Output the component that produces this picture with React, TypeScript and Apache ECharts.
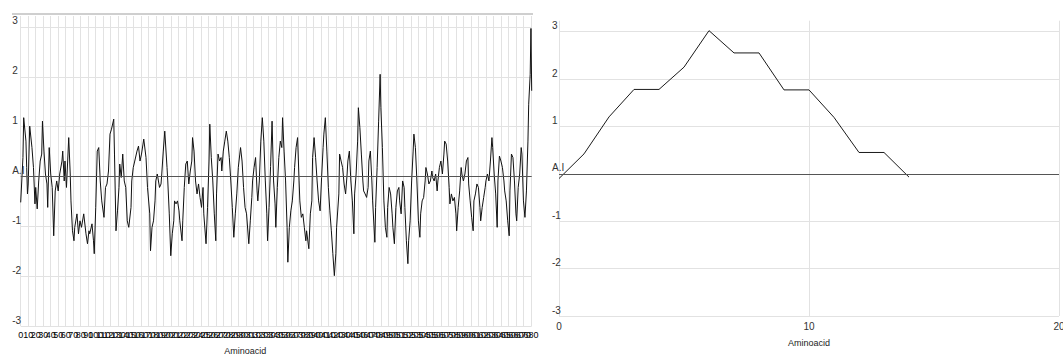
import React, { useEffect, useRef } from 'react';
import * as echarts from 'echarts';

// Left profile: [amino acid position, index value]
const leftProfile: [number, number][] = [
  [0,-0.52],[3,0.38],[4,1.18],[7,0.71],[8,0.18],[9,-0.35],[10,-0.15],[12,1.01],[15,0.58],[17,0.18],[19,-0.55],[20,-0.22],[22,-0.65],[24,-0.09],[26,0.31],[28,0.45],[29,1.11],[31,0.51],[33,0.05],[35,-0.15],[36,-0.62],[38,0.58],[40,0.05],[42,-0.22],[44,-1.19],[46,-0.29],[48,-0.09],[50,-0.29],[52,0.05],[55,0.31],[56,0.51],[58,-0.09],[59,0.31],[61,-0.22],[64,0.78],[66,0.05],[67,-0.49],[69,-1.09],[71,-1.29],[72,-1.02],[75,-0.75],[77,-1.15],[79,-0.89],[81,-1.02],[84,-0.75],[87,-1.15],[89,-1.35],[91,-1.09],[92,-1.15],[95,-0.95],[97,-1.29],[98,-1.55],[100,-0.62],[102,0.51],[104,0.58],[106,-0.09],[108,-0.49],[111,-0.82],[113,-0.22],[115,-0.15],[117,0.11],[119,0.85],[121,0.95],[124,1.15],[125,0.45],[127,-1.09],[129,-0.69],[131,-0.22],[132,0.25],[134,-0.02],[136,0.45],[138,-0.09],[140,-0.22],[142,-0.89],[144,-1.02],[147,-0.62],[148,-0.09],[150,0.18],[152,0.31],[155,0.51],[157,0.61],[159,0.31],[161,0.45],[163,0.65],[164,0.75],[167,0.38],[169,-0.22],[172,-0.75],[173,-1.49],[175,-1.02],[177,-0.89],[179,-0.49],[180,-0.09],[182,0.05],[185,-0.22],[187,-0.15],[188,0.05],[190,0.51],[192,0.91],[195,0.18],[196,-0.09],[198,-0.75],[200,-1.59],[202,-1.15],[204,-0.89],[205,-0.49],[207,-0.55],[209,-0.49],[211,-0.69],[212,-0.89],[215,-1.29],[216,-0.89],[218,-0.22],[220,0.25],[222,0.31],[224,-0.15],[226,0.11],[228,0.31],[229,0.78],[231,0.51],[233,-0.09],[235,-0.35],[237,-0.15],[239,-0.42],[241,-0.62],[243,-0.22],[244,-0.75],[247,-1.35],[249,-0.62],[251,0.31],[252,1.05],[254,0.38],[256,-0.09],[258,-0.75],[260,-1.29],[261,-0.35],[263,0.45],[265,0.31],[267,0.38],[268,0.11],[270,0.51],[272,0.71],[274,0.91],[276,0.71],[278,0.38],[280,-0.09],[282,-0.62],[284,-1.22],[286,-0.75],[288,-0.35],[290,0.18],[292,0.45],[293,0.58],[295,0.31],[297,-0.22],[299,-0.62],[301,-0.75],[304,-1.35],[306,-0.89],[308,-0.42],[309,-0.09],[311,0.18],[313,0.38],[315,-0.29],[316,-0.49],[318,-0.09],[320,0.71],[322,1.18],[324,0.71],[326,-0.09],[328,-0.75],[329,-1.29],[331,-0.62],[333,0.2],
  [335,1.11],[337,-0.09],[339,-0.55],[340,-1.02],[342,-0.22],[344,0.38],[346,0.71],[348,0.58],[349,1.18],[351,0.51],[353,-0.09],[355,-1.02],[356,-1.72],[358,-1.02],[360,-0.69],[362,-0.49],[364,-0.09],[365,0.18],[367,0.58],[369,0.78],[371,-0.09],[372,-0.49],[374,-0.82],[376,-0.75],[378,-1.02],[380,-1.29],[381,-1.09],[384,-1.45],[386,-0.75],[388,-0.49],[389,0.38],[391,0.78],[393,0.38],[395,-0.09],[397,-0.49],[399,-0.69],[401,-0.02],[403,0.58],[404,0.85],[406,1.18],[408,0.51],[410,-0.22],[412,-0.69],[414,-1.09],[416,-1.55],[418,-1.99],[420,-1.55],[421,-1.02],[424,-0.35],[425,0.45],[427,0.31],[429,0.18],[431,-0.15],[433,-0.35],[435,0.05],[436,0.31],[438,0.51],[440,-0.09],[442,-0.49],[444,-1.15],[445,-0.35],[447,0.05],[449,0.71],[450,1.38],[452,0.98],[454,0.45],[456,-0.09],[457,-0.29],[459,-0.35],[461,-0.42],[463,-0.22],[464,0.31],[466,0.51],[468,-0.09],[469,-0.49],[472,-1.32],[473,-0.62],[475,0.18],[477,1.11],[479,2.05],[480,1.38],[482,0.58],[484,-0.49],[486,-1.02],[488,-1.22],[489,-0.62],[491,-0.22],[493,-0.35],[495,-0.75],[496,-1.02],[498,-1.35],[500,-0.62],[502,-0.29],[504,-0.22],[505,-0.49],[507,-0.75],[509,-0.09],[511,-0.22],[512,-0.62],[514,-1.29],[516,-1.75],[517,-1.29],[519,-0.89],[521,-0.09],[523,0.51],[524,0.85],[526,0.58],[528,-0.09],[530,-0.89],[532,-1.22],[533,-0.75],[535,-0.49],[537,-0.42],[539,-0.09],[540,0.18],[542,0.05],[544,-0.15],[546,-0.09],[548,0.11],[549,-0.02],[551,-0.09],[553,0.05],[555,-0.29],[556,-0.09],[558,0.18],[560,0.31],[562,0.05],[564,0.45],[565,0.71],[567,0.65],[569,0.31],[571,-0.22],[572,-0.55],[574,-0.35],[576,-0.49],[578,-0.42],[580,-0.75],[581,-1.09],[583,-0.62],[585,-0.29],[587,0.18],[588,0.05],[590,-0.09],[592,0.05],[594,0.31],[596,0.38],[597,-0.15],[599,-0.49],[601,-0.82],[603,-1.09],[604,-0.49],[606,-0.35],[608,-0.15],[610,-0.22],[612,-0.62],[613,-0.89],[615,-0.62],[617,-0.42],[619,-0.22],[620,-0.09],[622,0.05],[624,-0.09],[626,0.31],[628,0.78],[629,0.58],[631,0.05],[633,-0.35],[635,-1.02],[636,-0.09],[638,0.41],[640,0.31],[642,0.18],[644,-0.09],[645,-0.29],[647,-0.49],[649,-0.89],[651,-1.19],[652,-0.29],[654,0.45],[656,0.38],[658,-0.09],[660,-0.75],[661,-0.89],[663,-0.22],[665,0.05],[667,0.58],[668,0.45],[670,-0.49],[672,-0.82],[674,-0.29],[676,0.71],[677,1.45],[679,2.05],[680,2.97],[681,1.72],
];
const leftLength = 681;
const leftTickStep = 10;

const rightPositions = [0, 1, 2, 3, 4, 5, 6, 7, 8, 9, 10, 11, 12, 13, 14];
const rightValues = [-0.1, 0.42, 1.2, 1.78, 1.78, 2.25, 3.02, 2.55, 2.55, 1.77, 1.77, 1.19, 0.45, 0.45, -0.07];
const rightMax = 20;
const rightTickStep = 10;

const yMin = -3;
const yTickStep = 1;
const axisTitle = 'Aminoacid';
const zeroLabel = 'A.I';

const FONT = '"Liberation Sans", Arial, sans-serif';
const GRID_COLOR = '#e2e2e2';

export default function App() {
  const ref = useRef<HTMLDivElement>(null);
  useEffect(() => {
    const chart = echarts.init(ref.current as HTMLDivElement, null, { renderer: 'svg' });
    const yLabel = (v: number) => (v === 0 ? zeroLabel : Number.isInteger(v) ? String(v) : '');
    const yAxisBase = (gridIndex: number, max: number, margin: number) => ({
      type: 'value',
      gridIndex,
      min: yMin,
      max,
      interval: yTickStep,
      axisLine: { show: false },
      axisTick: { show: false },
      splitLine: { show: true, showMaxLine: false, lineStyle: { color: GRID_COLOR, width: 1 } },
      axisLabel: {
        align: 'left',
        verticalAlign: 'bottom',
        lineHeight: 12,
        margin,
        fontSize: 10,
        color: '#333',
        fontFamily: FONT,
        showMinLabel: true,
        showMaxLabel: false,
        formatter: yLabel,
      },
    });
    const zeroMark = {
      silent: true,
      symbol: ['none', 'none'],
      label: { show: false },
      lineStyle: { color: '#555', width: 1, type: 'solid' },
      data: [{ yAxis: 0 }],
    };
    chart.setOption({
      animation: false,
      backgroundColor: '#fff',
      grid: [
        { left: 20.7, top: 16, width: 511, height: 310, outerBoundsMode: 'none', containLabel: false },
        { left: 559, top: 20.7, width: 500, height: 295.3, outerBoundsMode: 'none', containLabel: false },
      ],
      xAxis: [
        {
          type: 'value',
          gridIndex: 0,
          min: 0,
          max: leftLength,
          interval: leftTickStep,
          axisLine: { show: false },
          axisTick: { show: false },
          splitLine: { show: true, lineStyle: { color: GRID_COLOR, width: 1 } },
          axisLabel: {
            fontSize: 9,
            color: '#000',
            fontFamily: FONT,
            margin: 4,
            showMaxLabel: false,
            hideOverlap: false,
            formatter: (v: number) => (Number.isInteger(v) && v % leftTickStep === 0 ? String(v) : ''),
          },
          name: axisTitle,
          nameLocation: 'middle',
          nameGap: 20,
          nameTextStyle: { fontSize: 9, color: '#222', fontFamily: FONT, padding: [0, 62, 0, 0] },
        },
        {
          type: 'value',
          gridIndex: 1,
          min: 0,
          max: rightMax,
          interval: rightTickStep,
          axisLine: { show: false },
          axisTick: { show: false },
          splitLine: { show: true, lineStyle: { color: GRID_COLOR, width: 1 } },
          axisLabel: { fontSize: 10, color: '#333', fontFamily: FONT, margin: 5, showMinLabel: true, showMaxLabel: true },
          name: axisTitle,
          nameLocation: 'middle',
          nameGap: 22,
          nameTextStyle: { fontSize: 9, color: '#222', fontFamily: FONT },
        },
      ],
      yAxis: [yAxisBase(0, 3.22, 8.5), yAxisBase(1, 3.23, 7)],
      graphic: [
        { type: 'rect', shape: { x: 12, y: 13, width: 521, height: 2 }, style: { fill: '#cfcfcf' }, silent: true },
      ],
      series: [
        {
          type: 'line',
          xAxisIndex: 0,
          yAxisIndex: 0,
          data: leftProfile.map(([x, y]) => [x, y]),
          symbol: 'none',
          lineStyle: { color: '#111', width: 1 },
          markLine: zeroMark,
        },
        {
          type: 'line',
          xAxisIndex: 1,
          yAxisIndex: 1,
          data: rightPositions.map((x, i) => [x, rightValues[i]]),
          symbol: 'none',
          lineStyle: { color: '#1a1a1a', width: 1 },
          markLine: zeroMark,
        },
      ],
    });
    return () => chart.dispose();
  }, []);
  return (
    <div
      ref={ref}
      style={{ position: 'fixed', left: 0, top: 0, width: 1063, height: 355, background: '#fff' }}
    />
  );
}
